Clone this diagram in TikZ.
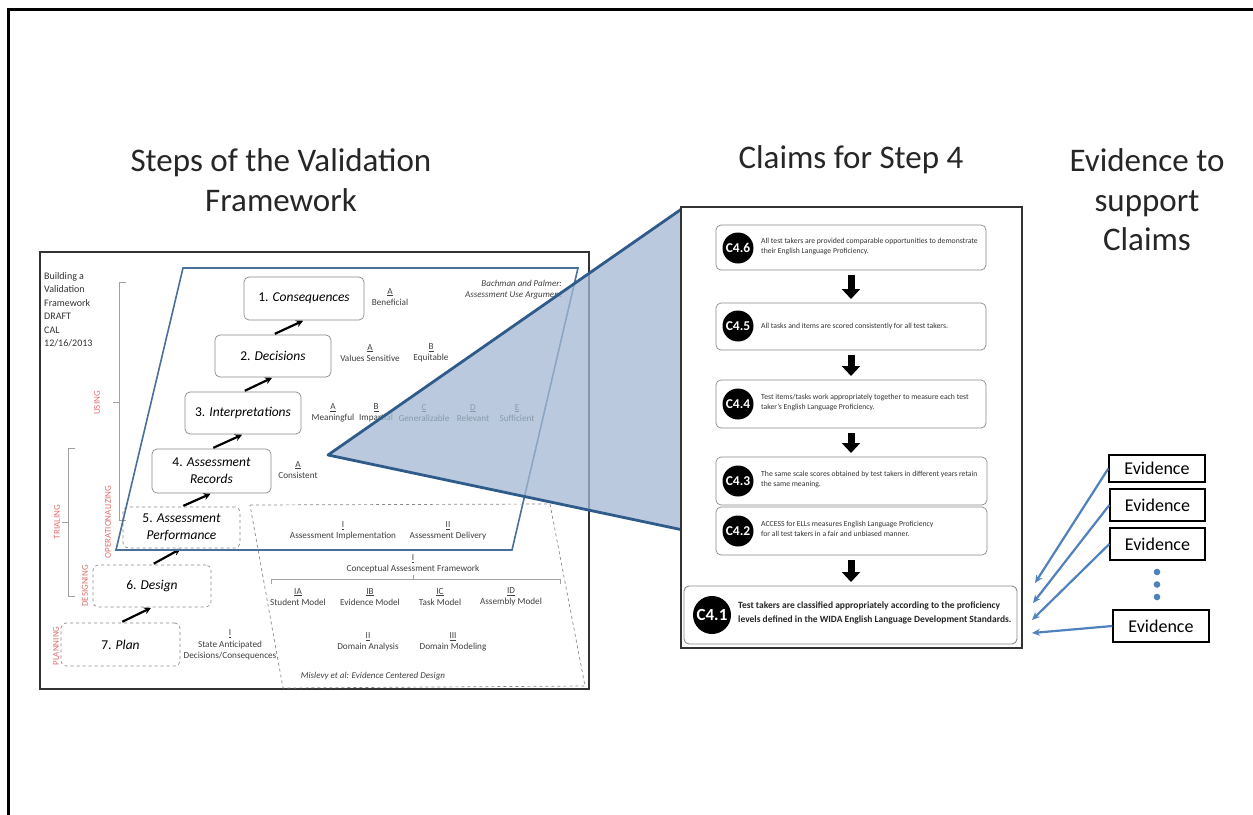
\documentclass[tikz,border=0pt]{standalone}
\usepackage{fontspec}
\setmainfont{Carlito}
\usetikzlibrary{arrows.meta,shapes.geometric}
\definecolor{pblue}{HTML}{4A6F99}
\definecolor{tblue}{HTML}{2F5B8A}
\definecolor{tfill}{HTML}{A3B8D2}
\definecolor{ered}{HTML}{E07070}
\definecolor{earrow}{HTML}{4F81BD}
\definecolor{bgray}{HTML}{8A8A8A}
\tikzset{
  title/.style={font=\fontsize{33}{39.5}\selectfont, align=center, text=black!85},
  stepbox/.style={draw=bgray, rounded corners=5pt, line width=0.7pt, align=center, font=\fontsize{13.5}{17}\selectfont, inner sep=1pt},
  dstepbox/.style={stepbox, dashed},
  steparrow/.style={-{Stealth[length=7pt,width=7pt]}, line width=2.2pt, shorten <=2pt, shorten >=1pt},
  lbl/.style={align=center, font=\fontsize{9.2}{11.5}\selectfont, text=black!75, inner sep=0pt},
  redlbl/.style={rotate=90, font=\fontsize{9}{10}\selectfont, text=ered, inner sep=0pt},
  brk/.style={draw=bgray!80, line width=0.6pt},
  claimbox/.style={draw=bgray, rounded corners=5pt, line width=0.7pt, fill=white},
  cball/.style={circle, fill=black, text=white, font=\bfseries\fontsize{13.5}{13.5}\selectfont, inner sep=0pt, minimum size=31pt},
  ctext/.style={anchor=west, align=left, font=\fontsize{7.7}{10}\selectfont, text=black!80, inner sep=0pt},
  blockarrow/.style={-{Triangle[length=10pt,width=18pt]}, line width=7pt, shorten <=5pt, shorten >=4pt},
  evbox/.style={draw=black, line width=1.3pt, font=\fontsize{18}{18}\selectfont, inner sep=0pt},
  evarrow/.style={-{Stealth[length=8pt,width=7pt]}, draw=earrow, line width=2.2pt}
}
\begin{document}
\begin{tikzpicture}[x=1pt,y=-1pt]
\useasboundingbox (0,0) rectangle (1253,814);
\fill[white] (0,0) rectangle (1253,814);
% outer frame
\draw[line width=3pt, line cap=rect] (8,814) -- (8,9) -- (1253,9);

% titles
\node[title] (t1) at (281,180) {Steps of the Validation\\Framework};
\node[title] (t2) at (851,160) {Claims for Step 4};
\node[title] (t3) at (1147,200) {Evidence to\\support\\Claims};

% inset frame
\draw[line width=1.4pt, draw=black!80, fill=white] (40,252) rectangle (589,689);

% building text
\node[anchor=north west, align=left, font=\fontsize{10}{13.5}\selectfont, text=black!80, inner sep=0pt] (bld) at (44,272) {Building a\\Validation\\Framework\\DRAFT\\CAL\\12/16/2013};

% brackets on left
\draw[brk] (126,282) -- (119,282) -- (119,520) -- (126,520);
\draw[brk] (119,402) -- (113,402);
\draw[brk] (75,448) -- (68,448) -- (68,596) -- (75,596);
\draw[brk] (68,522) -- (62,522);
\node[redlbl] (using) at (97,403) {USING};
\node[redlbl] (trial) at (57,522) {TRIALING};
\node[redlbl] (oper) at (108,522) {OPERATIONALIZING};
\node[redlbl] (desg) at (85,586) {DESIGNING};
\node[redlbl] (plan) at (56,646) {PLANNING};

% ECD dashed parallelogram
\draw[draw=bgray, dashed, line width=0.7pt] (250,505) -- (550,504) -- (585,686) -- (283,688) -- cycle;
\node[lbl] (ai) at (343,531) {\underline{I}\\Assessment Implementation};
\node[lbl] (ad) at (448,531) {\underline{II}\\Assessment Delivery};
\node[lbl] (caf) at (413,564) {\underline{I}\\Conceptual Assessment Framework};
\draw[brk] (271,584) -- (271,579) -- (560,579) -- (560,584);
\draw[brk] (413,579) -- (413,575);
\node[lbl] (sm) at (298,597) {\underline{IA}\\Student Model};
\node[lbl] (em) at (370,597) {\underline{IB}\\Evidence Model};
\node[lbl] (tm) at (440,597) {\underline{IC}\\Task Model};
\node[lbl] (am) at (511,597) {\underline{ID}\\Assembly Model};
\node[lbl] (da) at (368,642) {\underline{II}\\Domain Analysis};
\node[lbl] (dm) at (453,642) {\underline{III}\\Domain Modeling};
\node[lbl, font=\itshape\fontsize{9}{11}\selectfont] (mis) at (373,676) {Mislevy et al: Evidence Centered Design};
\node[lbl] (sad) at (230,645) {\underline{I}\\State Anticipated\\Decisions/Consequences};

% steps
\node[stepbox, minimum width=120pt, minimum height=43pt] (s1) at (304,298.5) {1. \textit{Consequences}};
\node[stepbox, minimum width=116pt, minimum height=42pt] (s2) at (273,356) {2. \textit{Decisions}};
\node[stepbox, minimum width=116pt, minimum height=42pt] (s3) at (243,413) {3. \textit{Interpretations}};
\node[stepbox, minimum width=119pt, minimum height=44pt] (s4) at (211.5,471) {4. \textit{Assessment}\\\textit{Records}};
\node[dstepbox, minimum width=117pt, minimum height=41pt] (s5) at (181.5,527.5) {5. \textit{Assessment}\\\textit{Performance}};
\node[dstepbox, minimum width=118pt, minimum height=42pt] (s6) at (152,586) {6. \textit{Design}};
\node[dstepbox, minimum width=119pt, minimum height=43pt] (s7) at (120.5,644.5) {7. \textit{Plan}};
\draw[steparrow] (s7.north) -- (s6.south);
\draw[steparrow] (s6.north) -- (s5.south);
\draw[steparrow] (s5.north) -- (s4.south);
\draw[steparrow] (s4.north) -- (s3.south);
\draw[steparrow] (s3.north) -- (s2.south);
\draw[steparrow] (s2.north) -- (s1.south);

% step labels
\node[lbl] (l1a) at (390,297) {\underline{A}\\Beneficial};
\node[lbl] (l2a) at (370,353) {\underline{A}\\Values Sensitive};
\node[lbl] (l2b) at (431,353) {\underline{B}\\Equitable};
\node[lbl] (l3a) at (333,413) {\underline{A}\\Meaningful};
\node[lbl] (l3b) at (376,413) {\underline{B}\\Impartial};
\node[lbl] (l3c) at (424,413) {\underline{C}\\Generalizable};
\node[lbl] (l3d) at (473,413) {\underline{D}\\Relevant};
\node[lbl] (l3e) at (517,413) {\underline{E}\\Sufficient};
\node[lbl] (l4a) at (298,470) {\underline{A}\\Consistent};
\node[lbl, align=right, anchor=east, font=\itshape\fontsize{9}{11}\selectfont] (bp) at (562,290) {Bachman and Palmer:\\Assessment Use Argument};

% blue parallelogram
\draw[draw=pblue, line width=1.6pt] (183,268) -- (578,268) -- (512,550) -- (116,550) -- cycle;

% zoom triangle
\coordinate (apex) at (328,455);
\coordinate (ttop) at (683,208);
\coordinate (tbot) at (683,530);
\fill[tfill, opacity=0.75] (apex) -- (ttop) -- (tbot) -- cycle;
\draw[draw=tblue, line width=2.8pt, line join=round] (ttop) -- (apex) -- (tbot);

% claims box
\draw[line width=1.4pt, draw=black!80, fill=white] (681,207) rectangle (1022,648);

\draw[claimbox] (716,225) rectangle (986,270);
\draw[claimbox] (716,303) rectangle (986,350);
\draw[claimbox] (716,380) rectangle (986,428);
\draw[claimbox] (716,457) rectangle (987,505);
\draw[claimbox] (716,507) rectangle (987,555);
\draw[claimbox, line width=0.9pt] (684,586) rectangle (1017,644);
\coordinate (b46s) at (851,270);
\coordinate (b45n) at (851,303);
\coordinate (b45s) at (851,350);
\coordinate (b44n) at (851,380);
\coordinate (b44s) at (851,428);
\coordinate (b43n) at (851,457);
\coordinate (b42s) at (851,555);
\coordinate (b41n) at (851,586);
\draw[blockarrow] (b46s) -- (b45n);
\draw[blockarrow] (b45s) -- (b44n);
\draw[blockarrow] (b44s) -- (b43n);
\draw[blockarrow] (b42s) -- (b41n);

\node[cball] (c46) at (738,248) {C4.6};
\node[cball] (c45) at (738,326) {C4.5};
\node[cball] (c44) at (738,404) {C4.4};
\node[cball] (c43) at (738,481) {C4.3};
\node[cball] (c42) at (738,531) {C4.2};
\node[cball, minimum size=38pt, font=\bfseries\fontsize{17}{17}\selectfont] (c41) at (712,615) {C4.1};
\node[ctext] (t46) at (761,246) {All test takers are provided comparable opportunities to demonstrate\\their English Language Proficiency.};
\node[ctext] (t45) at (761,326) {All tasks and items are scored consistently for all test takers.};
\node[ctext] (t44) at (761,402) {Test items/tasks work appropriately together to measure each test\\taker's English Language Proficiency.};
\node[ctext] (t43) at (761,479) {The same scale scores obtained by test takers in different years retain\\the same meaning.};
\node[ctext] (t42) at (761,529) {ACCESS for ELLs measures English Language Proficiency\\for all test takers in a fair and unbiased manner.};
\node[ctext, font=\bfseries\fontsize{9.5}{13.5}\selectfont, text=black!85] (t41) at (738,613) {Test takers are classified appropriately according to the proficiency\\levels defined in the WIDA English Language Development Standards.};

% evidence
\node[evbox, minimum width=96pt, minimum height=27pt] (e1) at (1157,468.5) {Evidence};
\node[evbox, minimum width=95pt, minimum height=32pt] (e2) at (1157.5,505) {Evidence};
\node[evbox, minimum width=95pt, minimum height=32pt] (e3) at (1157.5,544) {Evidence};
\node[evbox, minimum width=96pt, minimum height=32pt] (e4) at (1161,626) {Evidence};
\fill[earrow] (1157,572) circle (3.3pt);
\fill[earrow] (1157,584.5) circle (3.3pt);
\fill[earrow] (1157,597) circle (3.3pt);
\coordinate (g1) at (1035,583);
\coordinate (g2) at (1033,603);
\coordinate (g3) at (1032,620);
\coordinate (g4) at (1032,633);
\draw[evarrow] (e1.west) -- (g1);
\draw[evarrow] (e2.west) -- (g2);
\draw[evarrow] (e3.west) -- (g3);
\draw[evarrow] (e4.west) -- (g4);
\end{tikzpicture}
\end{document}
